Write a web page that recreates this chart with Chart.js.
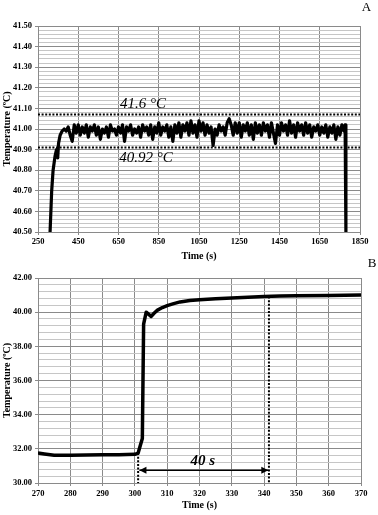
<!DOCTYPE html>
<html>
<head>
<meta charset="utf-8">
<script src="https://cdn.jsdelivr.net/npm/chart.js@4.4.0/dist/chart.umd.min.js"></script>
<style>
    html, body { margin: 0; padding: 0; background: #fff; }
    #wrap { position: relative; width: 378px; height: 515px; overflow: hidden; }
    canvas { position: absolute; left: 0; }
    #chartA { top: 0; }
    #chartB { top: 255px; }
</style>
</head>
<body>
<div id="wrap">
    <canvas id="chartA" width="378" height="262"></canvas>
    <canvas id="chartB" width="378" height="260"></canvas>
</div>
<script>
// ---- Panel A: temperature held over ~25 min ----
const timesA = [
    310, 318, 325, 335, 342, 348, 352, 360, 370,
    380, 390, 400, 410, 420, 430, 440, 450, 460, 470,
    480, 490, 500, 510, 520, 530, 540, 550, 560, 570,
    580, 590, 600, 610, 620, 630, 640, 650, 660, 670,
    680, 690, 700, 710, 720, 730, 740, 750, 760, 770,
    780, 790, 800, 810, 820, 830, 840, 850, 860, 870,
    880, 890, 900, 910, 920, 930, 940, 950, 960, 970,
    980, 990, 1000, 1010, 1020, 1030, 1040, 1050, 1060, 1070,
    1080, 1090, 1100, 1110, 1120, 1130, 1140, 1150, 1160, 1170,
    1180, 1190, 1200, 1210, 1220, 1230, 1240, 1250, 1260, 1270,
    1280, 1290, 1300, 1310, 1320, 1330, 1340, 1350, 1360, 1370,
    1380, 1390, 1400, 1410, 1420, 1430, 1440, 1450, 1460, 1470,
    1480, 1490, 1500, 1510, 1520, 1530, 1540, 1550, 1560, 1570,
    1580, 1590, 1600, 1610, 1620, 1630, 1640, 1650, 1660, 1670,
    1680, 1690, 1700, 1710, 1720, 1730, 1740, 1750, 1760, 1770,
    1776, 1780
];
const tempsA = [
    40.50, 40.70, 40.80, 40.87, 40.90, 40.86, 40.93, 40.97, 40.99,
    41.00, 40.99, 41.01, 40.97, 40.94, 41.02, 40.98, 41.02, 40.97, 41.01,
    40.98, 41.02, 40.96, 41.01, 40.99, 41.02, 40.97, 41.01, 40.95, 41.00,
    40.98, 41.01, 40.96, 41.02, 40.99, 41.00, 40.97, 41.01, 40.98, 41.02,
    40.94, 41.01, 40.99, 41.02, 40.97, 41.00, 40.98, 41.01, 40.96, 41.02,
    40.99, 41.01, 40.97, 41.02, 40.95, 41.01, 40.98, 41.03, 40.97, 41.01,
    40.99, 41.02, 40.96, 41.01, 40.94, 41.02, 40.98, 41.03, 40.96, 41.02,
    40.99, 41.03, 40.97, 41.04, 40.98, 41.02, 40.96, 41.04, 40.99, 41.03,
    40.97, 41.02, 40.98, 41.01, 40.92, 41.00, 40.97, 41.02, 40.99, 41.01,
    40.97, 41.03, 41.05, 41.02, 40.97, 41.03, 40.98, 41.03, 40.96, 41.02,
    40.99, 41.03, 40.97, 41.02, 40.95, 41.03, 40.98, 41.02, 40.97, 41.03,
    40.99, 41.02, 40.96, 41.03, 40.98, 40.93, 41.02, 40.97, 41.03, 40.99,
    41.02, 40.97, 41.04, 40.98, 41.02, 40.96, 41.03, 40.99, 41.02, 40.97,
    41.03, 40.98, 41.02, 40.96, 41.01, 40.99, 41.02, 40.97, 41.01, 40.98,
    41.02, 40.96, 41.01, 40.98, 41.02, 40.95, 41.01, 40.97, 41.02, 40.99,
    41.02, 40.50
];
const limitValuesA = [41.07, 40.91];
const limitLabelsA = ['41.6 °C', '40.92 °C'];
const limitLabelPosA = [[772, 41.12], [787, 40.86]];

// ---- Panel B: heating ramp ----
const timesB = [270, 272, 275, 280, 285, 290, 295, 300, 301, 302.3, 302.7, 303.5, 305, 306, 307, 308.5, 310, 312, 314, 317, 320, 325, 330, 335, 340, 345, 350, 360, 370];
const tempsB = [31.75, 31.70, 31.63, 31.63, 31.64, 31.65, 31.66, 31.68, 31.75, 32.6, 39.3, 40.00, 39.75, 39.95, 40.12, 40.27, 40.38, 40.50, 40.60, 40.68, 40.72, 40.78, 40.83, 40.87, 40.91, 40.94, 40.96, 40.98, 41.00];
const markerTimesB = [301, 341.5];
const markerTopsB = [31.75, 40.91];
const arrowSpanB = [301.4, 341.3];
const arrowLevelB = 30.75;
const arrowLabelB = '40 s';
const arrowLabelPosB = [321, 31.3];

const SERIF = '"Liberation Serif", "Times New Roman", serif';

// draws annotation text, arrow heads and the panel letter
const notesPlugin = {
    id: 'notes',
    afterDatasetsDraw(chart, args, opts) {
        const ctx = chart.ctx;
        const xs = chart.scales.x, ys = chart.scales.y;
        ctx.save();
        ctx.fillStyle = '#000';
        ctx.textAlign = 'center';
        ctx.textBaseline = 'middle';
        (opts.texts || []).forEach(t => {
            ctx.font = t.font;
            ctx.fillText(t.text, xs.getPixelForValue(t.x), ys.getPixelForValue(t.y));
        });
        (opts.arrows || []).forEach(idx => {
            const pts = chart.getDatasetMeta(idx).data;
            const a = pts[0], b = pts[pts.length - 1];
            [[a, 1], [b, -1]].forEach(([p, dir]) => {
                ctx.beginPath();
                ctx.moveTo(p.x, p.y);
                ctx.lineTo(p.x + dir * 7, p.y - 3.5);
                ctx.lineTo(p.x + dir * 7, p.y + 3.5);
                ctx.closePath();
                ctx.fill();
            });
        });
        if (opts.panel) {
            ctx.font = '13px ' + SERIF;
            ctx.fillText(opts.panel.text, opts.panel.x, opts.panel.y);
        }
        ctx.restore();
    }
};

function isMajor(v, major) {
    const r = v / major;
    return Math.abs(r - Math.round(r)) < 1e-6;
}

function makeScales(cfg) {
    return {
        x: {
            type: 'linear',
            min: cfg.xMin, max: cfg.xMax,
            afterFit: s => { s.height = cfg.xHeight; },
            ticks: {
                stepSize: cfg.xStep, autoSkip: false, maxRotation: 0,
                padding: cfg.xTickPad, color: '#000',
                font: { family: SERIF, size: 8.5, weight: 'bold' },
                callback: v => v
            },
            grid: { color: '#8a8a8a', tickColor: '#8a8a8a', tickLength: 3, lineWidth: 1 },
            border: { color: '#8a8a8a' },
            title: {
                display: true, text: 'Time (s)', color: '#000',
                font: { family: SERIF, size: 10, weight: 'bold', lineHeight: 1.1 },
                padding: { top: 0, bottom: cfg.xTitlePad }
            }
        },
        y: {
            min: cfg.yMin, max: cfg.yMax,
            afterFit: s => { s.width = 38; },
            ticks: {
                stepSize: cfg.yStep, autoSkip: false, maxTicksLimit: 1000,
                padding: 3, color: '#000',
                font: { family: SERIF, size: 8.5, weight: 'bold' },
                callback: v => isMajor(v, cfg.yMajor) ? v.toFixed(2) : ''
            },
            grid: {
                color: c => isMajor(c.tick.value, cfg.yMajor) ? '#8a8a8a' : '#c6c6c6',
                tickColor: c => isMajor(c.tick.value, cfg.yMajor) ? '#8a8a8a' : 'rgba(0,0,0,0)',
                tickLength: 3, lineWidth: 1
            },
            border: { color: '#8a8a8a' },
            title: {
                display: true, text: 'Temperature (ºC)', color: '#000',
                font: { family: SERIF, size: 10, weight: 'bold', lineHeight: 1.1 },
                padding: { top: 1.5, bottom: 0 }
            }
        }
    };
}

function pairs(xs, ys) {
    return xs.map((x, i) => ({ x: x, y: ys[i] }));
}

const dotted = { borderColor: '#000', borderWidth: 2, borderDash: [2, 1.6], pointRadius: 0, fill: false };

// Panel A
new Chart(document.getElementById('chartA'), {
    type: 'line',
    data: {
        datasets: [
            ...limitValuesA.map(v => Object.assign({ data: [{ x: 250, y: v }, { x: 1850, y: v }] }, dotted)),
            {
                data: pairs(timesA, tempsA),
                borderColor: '#000', borderWidth: 3.2, pointRadius: 0,
                borderJoinStyle: 'round', tension: 0, fill: false
            }
        ]
    },
    options: {
        responsive: false, animation: false,
        layout: { padding: { top: 26, right: 18, left: 0, bottom: 0 } },
        scales: makeScales({
            xMin: 250, xMax: 1850, xStep: 200, xHeight: 30, xTickPad: 2, xTitlePad: 0,
            yMin: 40.5, yMax: 41.5, yStep: 0.02, yMajor: 0.1
        }),
        plugins: {
            legend: { display: false },
            tooltip: { enabled: false },
            notes: {
                texts: limitLabelsA.map((t, i) => ({
                    text: t, x: limitLabelPosA[i][0], y: limitLabelPosA[i][1],
                    font: 'italic 15px ' + SERIF
                })),
                panel: { text: 'A', x: 366.5, y: 8 }
            }
        }
    },
    plugins: [notesPlugin]
});

// Panel B
new Chart(document.getElementById('chartB'), {
    type: 'line',
    data: {
        datasets: [
            ...markerTimesB.map((t, i) => Object.assign({ data: [{ x: t, y: markerTopsB[i] }, { x: t, y: 30 }] }, dotted)),
            {
                data: [{ x: arrowSpanB[0], y: arrowLevelB }, { x: arrowSpanB[1], y: arrowLevelB }],
                borderColor: '#000', borderWidth: 1.6, pointRadius: 0, fill: false
            },
            {
                data: pairs(timesB, tempsB),
                borderColor: '#000', borderWidth: 3.5, pointRadius: 0,
                borderJoinStyle: 'round', tension: 0, fill: false
            }
        ]
    },
    options: {
        responsive: false, animation: false,
        layout: { padding: { top: 23, right: 17, left: 0, bottom: 0 } },
        scales: makeScales({
            xMin: 270, xMax: 370, xStep: 10, xHeight: 32, xTickPad: 3, xTitlePad: 4.5,
            yMin: 30, yMax: 42, yStep: 0.4, yMajor: 2
        }),
        plugins: {
            legend: { display: false },
            tooltip: { enabled: false },
            notes: {
                texts: [{
                    text: arrowLabelB, x: arrowLabelPosB[0], y: arrowLabelPosB[1],
                    font: 'italic bold 15px ' + SERIF
                }],
                arrows: [2],
                panel: { text: 'B', x: 372, y: 9 }
            }
        }
    },
    plugins: [notesPlugin]
});
</script>
</body>
</html>
